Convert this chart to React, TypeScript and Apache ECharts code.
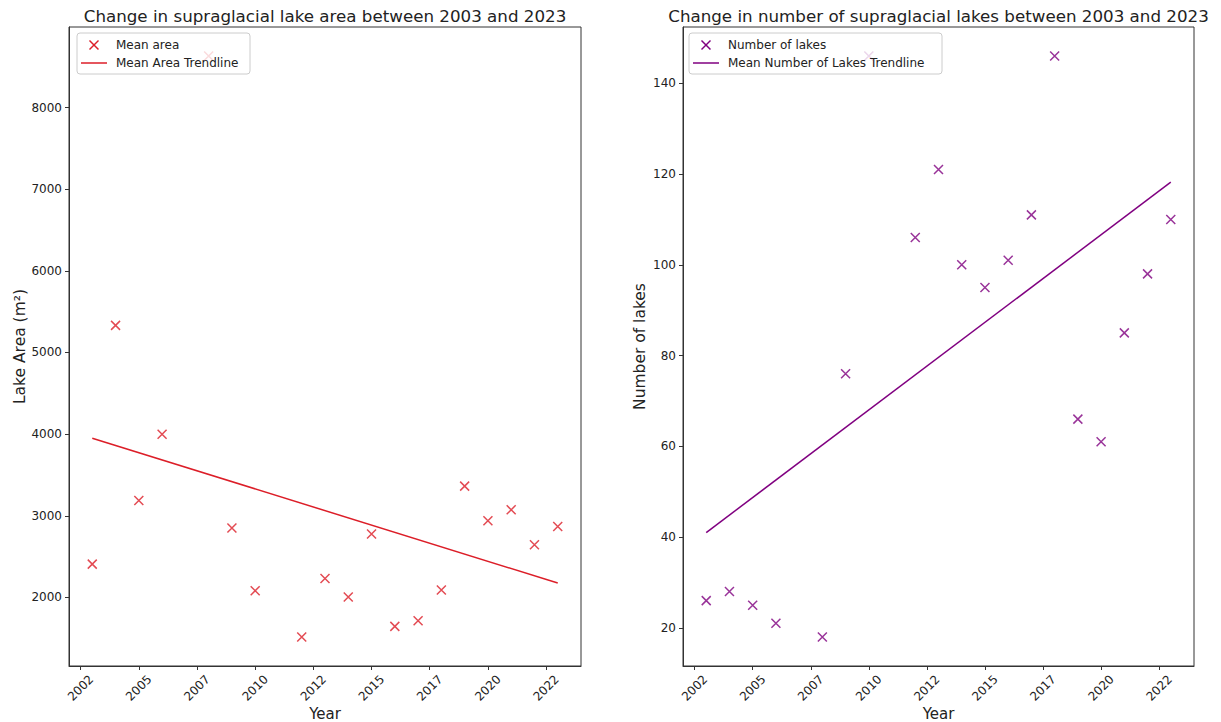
import React, { useEffect, useRef } from "react";
import * as echarts from "echarts";

// Survey years and per-year measurements
const years = [2003, 2004, 2005, 2006, 2008, 2009, 2010, 2012, 2013, 2014, 2015, 2016, 2017, 2018, 2019, 2020, 2021, 2022, 2023];
const meanArea = [2408, 5332, 3187, 3999, 8630, 2849, 2082, 1516, 2232, 2005, 2776, 1645, 1715, 2090, 3363, 2938, 3073, 2645, 2868];
const lakeCount = [26, 28, 25, 21, 18, 76, 146, 106, 121, 100, 95, 101, 111, 146, 66, 61, 85, 98, 110];

// Linear trendline end points
const trendYears = [2003, 2023];
const areaTrend = [3950, 2176];
const lakeTrend = [41.0, 118.2];

// Axis ticks
const yearTicks = [2002.5, 2005, 2007.5, 2010, 2012.5, 2015, 2017.5, 2020, 2022.5];
const areaTicks = [2000, 3000, 4000, 5000, 6000, 7000, 8000];
const countTicks = [20, 40, 60, 80, 100, 120, 140];

const FONT = "DejaVu Sans";
const INK = "#222";
const RED = "#dc1e28";
const PURPLE = "#800080";
const X_SYMBOL = "path://M0,0L10,10M10,0L0,10";

const pairs = (xs: number[], ys: number[]) => xs.map((x, i) => [x, ys[i]]);

function xAxisFor(gridIndex: number) {
  return {
    type: "value",
    gridIndex,
    min: 2002,
    max: 2024,
    splitLine: { show: false },
    axisLine: { show: true, lineStyle: { color: "#333", width: 1 } },
    axisTick: { show: true, customValues: yearTicks, length: 4, lineStyle: { color: "#333", width: 1 } },
    axisLabel: {
      customValues: yearTicks,
      formatter: (v: number) => String(Math.floor(v)),
      rotate: 45,
      align: "center",
      verticalAlign: "middle",
      margin: 22,
      fontSize: 12,
      color: INK,
      fontFamily: FONT,
    },
    name: "Year",
    nameLocation: "middle",
    nameGap: 40,
    nameMoveOverlap: false,
    nameTextStyle: { fontSize: 15, color: INK, fontFamily: FONT },
  };
}

function yAxisFor(gridIndex: number, min: number, max: number, ticks: number[], name: string, nameGap: number) {
  return {
    type: "value",
    gridIndex,
    min,
    max,
    splitLine: { show: false },
    axisLine: { show: true, lineStyle: { color: "#333", width: 1 } },
    axisTick: { show: true, customValues: ticks, length: 4, lineStyle: { color: "#333", width: 1 } },
    axisLabel: {
      customValues: ticks,
      formatter: (v: number) => String(v),
      margin: 7,
      fontSize: 12,
      color: INK,
      fontFamily: FONT,
    },
    name,
    nameLocation: "middle",
    nameGap,
    nameTextStyle: { fontSize: 15.5, color: INK, fontFamily: FONT },
  };
}

function legendBox(x: number, w: number, color: string, scatterLabel: string, lineLabel: string) {
  const mx = x + 17;
  const tx = x + 39;
  return [
    {
      type: "rect",
      z: 50,
      shape: { x, y: 33, width: w, height: 41, r: 3 },
      style: { fill: "rgba(255,255,255,0.8)", stroke: "#cccccc", lineWidth: 1 },
    },
    { type: "line", z: 51, shape: { x1: mx - 4.5, y1: 40.5, x2: mx + 4.5, y2: 49.5 }, style: { stroke: color, lineWidth: 1.5 } },
    { type: "line", z: 51, shape: { x1: mx + 4.5, y1: 40.5, x2: mx - 4.5, y2: 49.5 }, style: { stroke: color, lineWidth: 1.5 } },
    { type: "text", z: 51, x: tx, y: 45, style: { text: scatterLabel, fill: INK, fontSize: 12, fontFamily: FONT, verticalAlign: "middle" } },
    { type: "line", z: 51, shape: { x1: x + 4, y1: 63, x2: x + 30, y2: 63 }, style: { stroke: color, lineWidth: 1.5 } },
    { type: "text", z: 51, x: tx, y: 63, style: { text: lineLabel, fill: INK, fontSize: 12, fontFamily: FONT, verticalAlign: "middle" } },
  ];
}

export default function App() {
  const ref = useRef<HTMLDivElement>(null);

  useEffect(() => {
    if (!ref.current) return;
    const chart = echarts.init(ref.current, undefined, { renderer: "svg" });
    const titleStyle = { fontSize: 16.7, fontWeight: "normal", color: INK, fontFamily: FONT };
    const gridBase = { top: 27, height: 639, show: true, borderColor: "#333", borderWidth: 1, backgroundColor: "transparent", outerBoundsMode: "none", containLabel: false };
    chart.setOption({
      animation: false,
      backgroundColor: "#ffffff",
      title: [
        { text: "Change in supraglacial lake area between 2003 and 2023", left: 325, top: 7, textAlign: "center", padding: 0, textStyle: titleStyle },
        { text: "Change in number of supraglacial lakes between 2003 and 2023", left: 938.5, top: 7, textAlign: "center", padding: 0, textStyle: titleStyle },
      ],
      grid: [
        { ...gridBase, left: 69, width: 512 },
        { ...gridBase, left: 683, width: 511 },
      ],
      xAxis: [xAxisFor(0), xAxisFor(1)],
      yAxis: [
        yAxisFor(0, 1160, 8986, areaTicks, "Lake Area (m²)", 39),
        yAxisFor(1, 11.6, 152.4, countTicks, "Number of lakes", 35),
      ],
      series: [
        {
          name: "Mean area",
          type: "scatter",
          xAxisIndex: 0,
          yAxisIndex: 0,
          symbol: X_SYMBOL,
          symbolSize: 9,
          itemStyle: { color: "rgba(0,0,0,0)", borderColor: RED, borderWidth: 1.5 },
          data: pairs(years, meanArea),
        },
        {
          name: "Mean Area Trendline",
          type: "line",
          xAxisIndex: 0,
          yAxisIndex: 0,
          symbol: "none",
          lineStyle: { color: RED, width: 1.5 },
          data: pairs(trendYears, areaTrend),
        },
        {
          name: "Number of lakes",
          type: "scatter",
          xAxisIndex: 1,
          yAxisIndex: 1,
          symbol: X_SYMBOL,
          symbolSize: 9,
          itemStyle: { color: "rgba(0,0,0,0)", borderColor: PURPLE, borderWidth: 1.5 },
          data: pairs(years, lakeCount),
        },
        {
          name: "Mean Number of Lakes Trendline",
          type: "line",
          xAxisIndex: 1,
          yAxisIndex: 1,
          symbol: "none",
          lineStyle: { color: PURPLE, width: 1.5 },
          data: pairs(trendYears, lakeTrend),
        },
      ],
      graphic: [
        ...legendBox(77, 173, RED, "Mean area", "Mean Area Trendline"),
        ...legendBox(689, 253, PURPLE, "Number of lakes", "Mean Number of Lakes Trendline"),
      ],
    });
    return () => chart.dispose();
  }, []);

  return <div ref={ref} style={{ position: "fixed", left: 0, top: 0, width: 1221, height: 722 }} />;
}
